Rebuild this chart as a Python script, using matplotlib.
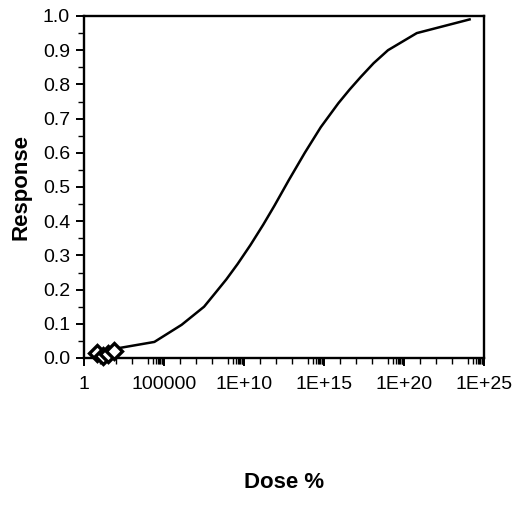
import matplotlib
matplotlib.use("Agg")
import matplotlib.pyplot as plt
import numpy as np
from matplotlib.ticker import FixedLocator, FixedFormatter, MultipleLocator

plt.rcParams['font.family'] = ['Liberation Sans', 'DejaVu Sans']

# observed data (open diamonds)
obs_dose = [6.3, 16.0, 32.0, 80.0]
obs_resp = [0.015, 0.005, 0.012, 0.02]

# fitted curve
fit_dose = [20.0, 200.0, 2.5e4, 1.26e6, 3.2e7, 1.6e8, 7.9e8, 4.0e9, 2.5e10,
            1.6e11, 7.9e11, 6.3e12, 6.3e13, 6.3e14, 7.9e15, 4.0e16, 2.0e17,
            1.26e18, 1.0e19, 6.3e20, 1.26e24]
fit_resp = [0.02, 0.03, 0.047, 0.097, 0.15, 0.19, 0.23, 0.275, 0.33,
            0.39, 0.445, 0.52, 0.60, 0.675, 0.745, 0.785, 0.822,
            0.862, 0.90, 0.95, 0.99]

xtick_vals = [1, 1e5, 1e10, 1e15, 1e20, 1e25]
xtick_labels = ["1", "100000", "1E+10", "1E+15", "1E+20", "1E+25"]

fig = plt.figure(figsize=(5.21, 5.18), dpi=100)
ax = fig.add_axes([84/521, 1-358/518, 400/521, 342/518])

ax.plot(fit_dose, fit_resp, color='black', lw=1.8, zorder=2)
ax.plot(obs_dose, obs_resp, linestyle='none', marker='D', markersize=8,
        markerfacecolor='white', markeredgecolor='black', markeredgewidth=2.4,
        zorder=3, clip_on=False)

ax.set_xscale('log')
ax.set_xlim(1, 1e25)
ax.set_ylim(0, 1.0)

ax.xaxis.set_major_locator(FixedLocator(xtick_vals))
ax.xaxis.set_major_formatter(FixedFormatter(xtick_labels))
minors = []
for n in range(0, 25, 5):
    for d in range(1, 4):
        minors.append(10.0 ** (n + d))
    for k in range(1, 10):
        minors.append(k * 10.0 ** (n + 4))
minors = [m for m in minors if m not in xtick_vals and m < 1e25]
ax.xaxis.set_minor_locator(FixedLocator(minors))
ax.xaxis.set_minor_formatter(FixedFormatter([""] * len(minors)))

ax.yaxis.set_major_locator(MultipleLocator(0.1))
ax.yaxis.set_minor_locator(MultipleLocator(0.05))
ax.yaxis.set_major_formatter(plt.FuncFormatter(lambda v, p: f"{v:.1f}"))

ax.tick_params(axis='both', which='major', direction='out', length=6, width=1.4,
               labelsize=14, colors='black')
ax.tick_params(axis='both', which='minor', direction='out', length=4, width=1.0)
ax.tick_params(axis='x', which='major', pad=7)
ax.tick_params(axis='y', which='major', pad=4)

for s in ax.spines.values():
    s.set_linewidth(1.7)
    s.set_color('black')

ax.set_ylabel("Response", fontsize=16, fontweight='bold', labelpad=8)
fig.text((84 + 484) / 2 / 521, 1 - 483 / 518, "Dose %", fontsize=16,
         fontweight='bold', ha='center', va='center')

fig.savefig("out.png", dpi=100)
